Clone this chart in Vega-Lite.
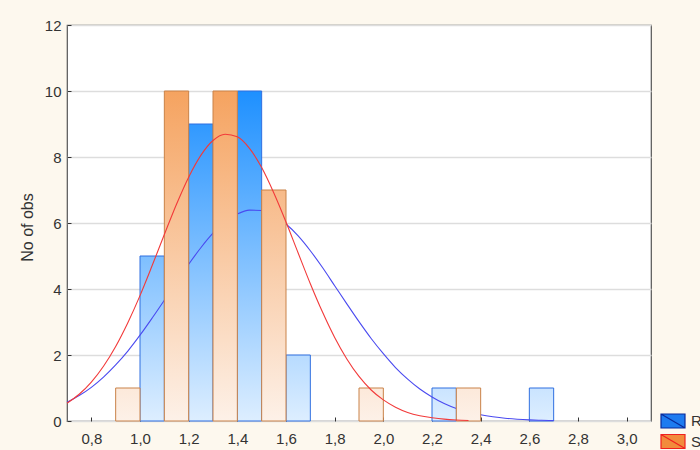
{
  "$schema": "https://vega.github.io/schema/vega-lite/v6.json",
  "width": 584,
  "height": 396,
  "autosize": {"type": "none"},
  "padding": {"left": 67, "top": 25, "right": 49, "bottom": 29},
  "background": "#FDF8EE",
  "view": {"fill": "#FFFFFF", "stroke": "#555555", "strokeWidth": 1.2},
  "config": {
    "font": "Liberation Sans",
    "axis": {"labelFont": "Liberation Sans", "labelFontSize": 15, "labelColor": "#333333", "tickColor": "#333333", "domain": false, "titleFont": "Liberation Sans", "titleFontWeight": "normal", "titleColor": "#333333"}
  },
  "datasets": {
    "bars": [
      {"series": "R", "x0": 1.0, "x1": 1.1, "n": 5},
      {"series": "R", "x0": 1.2, "x1": 1.3, "n": 9},
      {"series": "R", "x0": 1.4, "x1": 1.5, "n": 10},
      {"series": "R", "x0": 1.6, "x1": 1.7, "n": 2},
      {"series": "R", "x0": 2.2, "x1": 2.3, "n": 1},
      {"series": "R", "x0": 2.6, "x1": 2.7, "n": 1},
      {"series": "S", "x0": 0.9, "x1": 1.0, "n": 1},
      {"series": "S", "x0": 1.1, "x1": 1.2, "n": 10},
      {"series": "S", "x0": 1.3, "x1": 1.4, "n": 10},
      {"series": "S", "x0": 1.5, "x1": 1.6, "n": 7},
      {"series": "S", "x0": 1.9, "x1": 2.0, "n": 1},
      {"series": "S", "x0": 2.3, "x1": 2.4, "n": 1}
    ],
    "curves": [
      {"series": "S", "x": 0.70, "y": 0.54}, {"series": "S", "x": 0.75, "y": 0.81}, {"series": "S", "x": 0.80, "y": 1.18}, {"series": "S", "x": 0.85, "y": 1.66},
      {"series": "S", "x": 0.90, "y": 2.26}, {"series": "S", "x": 0.95, "y": 2.98}, {"series": "S", "x": 1.00, "y": 3.80}, {"series": "S", "x": 1.05, "y": 4.71},
      {"series": "S", "x": 1.10, "y": 5.65}, {"series": "S", "x": 1.15, "y": 6.57}, {"series": "S", "x": 1.20, "y": 7.39}, {"series": "S", "x": 1.25, "y": 8.05},
      {"series": "S", "x": 1.30, "y": 8.50}, {"series": "S", "x": 1.35, "y": 8.69}, {"series": "S", "x": 1.40, "y": 8.61}, {"series": "S", "x": 1.45, "y": 8.26},
      {"series": "S", "x": 1.50, "y": 7.68}, {"series": "S", "x": 1.55, "y": 6.91}, {"series": "S", "x": 1.60, "y": 6.03}, {"series": "S", "x": 1.65, "y": 5.09},
      {"series": "S", "x": 1.70, "y": 4.16}, {"series": "S", "x": 1.75, "y": 3.30}, {"series": "S", "x": 1.80, "y": 2.53}, {"series": "S", "x": 1.85, "y": 1.88},
      {"series": "S", "x": 1.90, "y": 1.35}, {"series": "S", "x": 1.95, "y": 0.94}, {"series": "S", "x": 2.00, "y": 0.64}, {"series": "S", "x": 2.05, "y": 0.42},
      {"series": "S", "x": 2.10, "y": 0.26}, {"series": "S", "x": 2.15, "y": 0.16}, {"series": "S", "x": 2.20, "y": 0.10}, {"series": "S", "x": 2.25, "y": 0.056},
      {"series": "S", "x": 2.30, "y": 0.031}, {"series": "S", "x": 2.35, "y": 0.017},
      {"series": "R", "x": 0.70, "y": 0.57}, {"series": "R", "x": 0.75, "y": 0.77}, {"series": "R", "x": 0.80, "y": 1.02}, {"series": "R", "x": 0.85, "y": 1.33},
      {"series": "R", "x": 0.90, "y": 1.70}, {"series": "R", "x": 0.95, "y": 2.12}, {"series": "R", "x": 1.00, "y": 2.60}, {"series": "R", "x": 1.05, "y": 3.12},
      {"series": "R", "x": 1.10, "y": 3.66}, {"series": "R", "x": 1.15, "y": 4.21}, {"series": "R", "x": 1.20, "y": 4.75}, {"series": "R", "x": 1.25, "y": 5.25},
      {"series": "R", "x": 1.30, "y": 5.69}, {"series": "R", "x": 1.35, "y": 6.03}, {"series": "R", "x": 1.40, "y": 6.27}, {"series": "R", "x": 1.45, "y": 6.39},
      {"series": "R", "x": 1.50, "y": 6.38}, {"series": "R", "x": 1.55, "y": 6.23}, {"series": "R", "x": 1.60, "y": 5.97}, {"series": "R", "x": 1.65, "y": 5.61},
      {"series": "R", "x": 1.70, "y": 5.16}, {"series": "R", "x": 1.75, "y": 4.65}, {"series": "R", "x": 1.80, "y": 4.10}, {"series": "R", "x": 1.85, "y": 3.55},
      {"series": "R", "x": 1.90, "y": 3.01}, {"series": "R", "x": 1.95, "y": 2.50}, {"series": "R", "x": 2.00, "y": 2.04}, {"series": "R", "x": 2.05, "y": 1.62},
      {"series": "R", "x": 2.10, "y": 1.27}, {"series": "R", "x": 2.15, "y": 0.97}, {"series": "R", "x": 2.20, "y": 0.73}, {"series": "R", "x": 2.25, "y": 0.53},
      {"series": "R", "x": 2.30, "y": 0.38}, {"series": "R", "x": 2.35, "y": 0.27}, {"series": "R", "x": 2.40, "y": 0.19}, {"series": "R", "x": 2.45, "y": 0.13},
      {"series": "R", "x": 2.50, "y": 0.084}, {"series": "R", "x": 2.55, "y": 0.055}, {"series": "R", "x": 2.60, "y": 0.035}, {"series": "R", "x": 2.65, "y": 0.022},
      {"series": "R", "x": 2.70, "y": 0.013}
    ],
    "keys": [{"series": "R"}, {"series": "S"}]
  },
  "layer": [
    {
      "data": {"name": "bars"},
      "transform": [{"filter": "datum.series === 'R' && datum.n == 10"}],
      "mark": {"type": "rect", "stroke": "#2F6FE0", "strokeWidth": 1, "fill": {"gradient": "linear", "x1": 0, "y1": 0, "x2": 0, "y2": 1, "stops": [{"offset": 0, "color": "#1E90FF"}, {"offset": 1, "color": "#DDEEFF"}]}},
      "encoding": {
        "x": {"field": "x0", "type": "quantitative", "scale": {"domain": [0.7, 3.1], "nice": false, "zero": false},
          "axis": {"title": null, "values": [0.8, 1.0, 1.2, 1.4, 1.6, 1.8, 2.0, 2.2, 2.4, 2.6, 2.8, 3.0], "labelExpr": "replace(format(datum.value, '.1f'), '.', ',')", "grid": false, "tickSize": -4, "labelPadding": 14}},
        "x2": {"field": "x1"},
        "y": {"field": "n", "type": "quantitative", "scale": {"domain": [0, 12], "nice": false},
          "axis": {"title": "No of obs", "titleFontSize": 16, "values": [0, 2, 4, 6, 8, 10, 12], "grid": true, "gridColor": "#DDDDDD", "gridWidth": 1.5, "tickSize": -4, "labelPadding": 10, "titleX": -40, "titleY": 202, "titleAngle": -90, "titleAlign": "center", "titleBaseline": "middle"}},
        "y2": {"datum": 0}
      }
    },
    {
      "data": {"name": "bars"},
      "transform": [{"filter": "datum.series === 'R' && datum.n == 9"}],
      "mark": {"type": "rect", "stroke": "#2F6FE0", "strokeWidth": 1, "fill": {"gradient": "linear", "x1": 0, "y1": 0, "x2": 0, "y2": 1, "stops": [{"offset": 0, "color": "#3199FF"}, {"offset": 1, "color": "#DDEEFF"}]}},
      "encoding": {"x": {"field": "x0", "type": "quantitative"}, "x2": {"field": "x1"}, "y": {"field": "n", "type": "quantitative"}, "y2": {"datum": 0}}
    },
    {
      "data": {"name": "bars"},
      "transform": [{"filter": "datum.series === 'R' && datum.n == 5"}],
      "mark": {"type": "rect", "stroke": "#2F6FE0", "strokeWidth": 1, "fill": {"gradient": "linear", "x1": 0, "y1": 0, "x2": 0, "y2": 1, "stops": [{"offset": 0, "color": "#7EBFFF"}, {"offset": 1, "color": "#DDEEFF"}]}},
      "encoding": {"x": {"field": "x0", "type": "quantitative"}, "x2": {"field": "x1"}, "y": {"field": "n", "type": "quantitative"}, "y2": {"datum": 0}}
    },
    {
      "data": {"name": "bars"},
      "transform": [{"filter": "datum.series === 'R' && datum.n == 2"}],
      "mark": {"type": "rect", "stroke": "#2F6FE0", "strokeWidth": 1, "fill": {"gradient": "linear", "x1": 0, "y1": 0, "x2": 0, "y2": 1, "stops": [{"offset": 0, "color": "#B7DBFF"}, {"offset": 1, "color": "#DDEEFF"}]}},
      "encoding": {"x": {"field": "x0", "type": "quantitative"}, "x2": {"field": "x1"}, "y": {"field": "n", "type": "quantitative"}, "y2": {"datum": 0}}
    },
    {
      "data": {"name": "bars"},
      "transform": [{"filter": "datum.series === 'R' && datum.n == 1"}],
      "mark": {"type": "rect", "stroke": "#2F6FE0", "strokeWidth": 1, "fill": {"gradient": "linear", "x1": 0, "y1": 0, "x2": 0, "y2": 1, "stops": [{"offset": 0, "color": "#CAE4FF"}, {"offset": 1, "color": "#DDEEFF"}]}},
      "encoding": {"x": {"field": "x0", "type": "quantitative"}, "x2": {"field": "x1"}, "y": {"field": "n", "type": "quantitative"}, "y2": {"datum": 0}}
    },
    {
      "data": {"name": "curves"},
      "transform": [{"filter": "datum.series === 'R'"}],
      "mark": {"type": "line", "color": "#4A4AF0", "strokeWidth": 1.1, "interpolate": "monotone"},
      "encoding": {"x": {"field": "x", "type": "quantitative"}, "y": {"field": "y", "type": "quantitative"}}
    },
    {
      "data": {"name": "bars"},
      "transform": [{"filter": "datum.series === 'S' && datum.n == 10"}],
      "mark": {"type": "rect", "stroke": "#C98248", "strokeWidth": 1, "fill": {"gradient": "linear", "x1": 0, "y1": 0, "x2": 0, "y2": 1, "stops": [{"offset": 0, "color": "#F5A360"}, {"offset": 1, "color": "#FDF1E8"}]}},
      "encoding": {"x": {"field": "x0", "type": "quantitative"}, "x2": {"field": "x1"}, "y": {"field": "n", "type": "quantitative"}, "y2": {"datum": 0}}
    },
    {
      "data": {"name": "bars"},
      "transform": [{"filter": "datum.series === 'S' && datum.n == 7"}],
      "mark": {"type": "rect", "stroke": "#C98248", "strokeWidth": 1, "fill": {"gradient": "linear", "x1": 0, "y1": 0, "x2": 0, "y2": 1, "stops": [{"offset": 0, "color": "#F7BA89"}, {"offset": 1, "color": "#FDF1E8"}]}},
      "encoding": {"x": {"field": "x0", "type": "quantitative"}, "x2": {"field": "x1"}, "y": {"field": "n", "type": "quantitative"}, "y2": {"datum": 0}}
    },
    {
      "data": {"name": "bars"},
      "transform": [{"filter": "datum.series === 'S' && datum.n == 1"}],
      "mark": {"type": "rect", "stroke": "#C98248", "strokeWidth": 1, "fill": {"gradient": "linear", "x1": 0, "y1": 0, "x2": 0, "y2": 1, "stops": [{"offset": 0, "color": "#FCE9DA"}, {"offset": 1, "color": "#FDF1E8"}]}},
      "encoding": {"x": {"field": "x0", "type": "quantitative"}, "x2": {"field": "x1"}, "y": {"field": "n", "type": "quantitative"}, "y2": {"datum": 0}}
    },
    {
      "data": {"name": "curves"},
      "transform": [{"filter": "datum.series === 'S'"}],
      "mark": {"type": "line", "color": "#F23A3A", "strokeWidth": 1.1, "interpolate": "monotone"},
      "encoding": {"x": {"field": "x", "type": "quantitative"}, "y": {"field": "y", "type": "quantitative"}}
    },
    {
      "data": {"name": "keys"},
      "mark": {"type": "point", "opacity": 0, "filled": true},
      "encoding": {
        "fill": {"field": "series", "type": "nominal", "scale": {"domain": ["R", "S"], "range": ["#1E7BF0", "#F28B3C"]},
          "legend": {"title": null, "orient": "none", "legendX": 596, "legendY": 386, "symbolType": "M-1.333,-0.778H1.333V0.778H-1.333Z M-1.333,-0.778L1.333,0.778", "symbolSize": 324, "symbolOpacity": 1, "symbolStrokeWidth": 1.2, "labelFontSize": 15, "labelColor": "#333333", "labelOffset": 8, "rowPadding": 0.5, "padding": 0}},
        "stroke": {"field": "series", "type": "nominal", "scale": {"domain": ["R", "S"], "range": ["#0A2A9A", "#F02020"]}, "legend": null}
      }
    }
  ]
}
